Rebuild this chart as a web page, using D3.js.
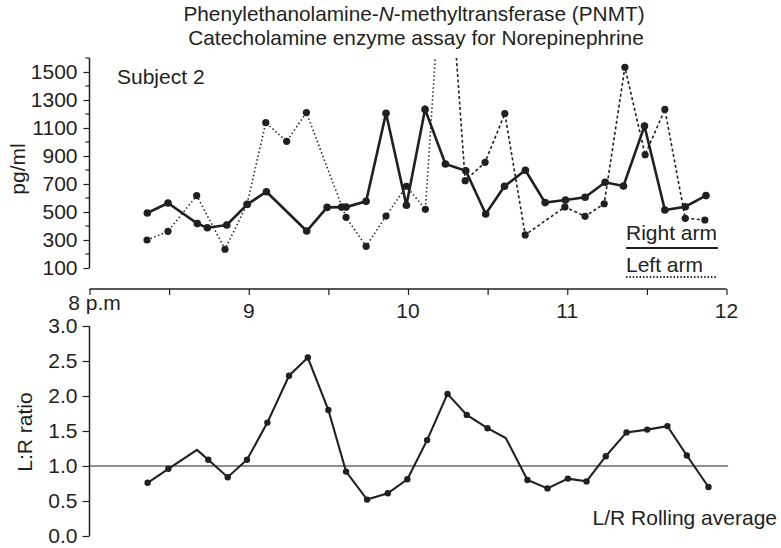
<!DOCTYPE html>
<html>
<head>
<meta charset="utf-8">
<script src="https://cdn.jsdelivr.net/npm/d3@7"></script>
<style>
  html, body { margin: 0; padding: 0; background: #fff; }
  svg { display: block; font-family: "Liberation Sans", Arial, Helvetica, sans-serif; }
  text { fill: #231f20; }
</style>
</head>
<body>
<svg id="chart" width="781" height="548"></svg>
<script>
// Sampling times (clock hours, 8 p.m. = 8) and plasma norepinephrine, pg/ml
const rightTimes = [8.363, 8.493, 8.677, 8.740, 8.862, 8.991, 9.111, 9.364, 9.492, 9.584, 9.611,
  9.737, 9.862, 9.990, 10.107, 10.235, 10.363, 10.488, 10.606, 10.737, 10.861, 10.989,
  11.112, 11.238, 11.353, 11.485, 11.613, 11.741, 11.871];
const rightArm = [493, 564, 417, 388, 407, 555, 645, 364, 533, 535, 535,
  576, 1205, 548, 1233, 843, 795, 486, 684, 798, 567, 586,
  605, 712, 686, 1114, 514, 538, 617];

const leftTimes = [8.361, 8.493, 8.673, 8.851, 8.989, 9.107, 9.238, 9.362, 9.611, 9.737,
  9.862, 9.990, 10.109, 10.235, 10.359, 10.484, 10.608, 10.736, 10.985, 11.112,
  11.232, 11.362, 11.489, 11.613, 11.741, 11.864];
const leftArm = [300, 362, 617, 234, 555, 1138, 1005, 1210, 462, 255,
  471, 684, 519, 2700, 724, 855, 1203, 336, 536, 469,
  559, 1534, 909, 1233, 455, 443];

// L:R rolling average
const ratioTimes = [8.365, 8.495, 8.675, 8.746, 8.868, 8.989, 9.117, 9.253, 9.371, 9.500,
  9.611, 9.743, 9.873, 9.996, 10.120, 10.248, 10.369, 10.499, 10.614, 10.750,
  10.876, 11.004, 11.121, 11.242, 11.372, 11.502, 11.629, 11.751, 11.887];
const ratioValues = [0.76, 0.96, 1.23, 1.09, 0.84, 1.09, 1.62, 2.29, 2.55, 1.80,
  0.92, 0.52, 0.61, 0.81, 1.37, 2.03, 1.73, 1.54, 1.40, 0.80,
  0.68, 0.82, 0.78, 1.14, 1.48, 1.52, 1.57, 1.15, 0.70];
const ratioMarked = [true, true, false, true, true, true, true, true, true, true,
  true, true, true, true, true, true, true, true, false, true,
  true, true, true, true, true, true, true, true, true];

const hourTicks = [8, 9, 10, 11, 12];
const hourLabels = ["8 p.m", "9", "10", "11", "12"];
const pgTicks = [100, 300, 500, 700, 900, 1100, 1300, 1500];
const ratioTicks = [0, 0.5, 1.0, 1.5, 2.0, 2.5, 3.0];

const titleLines = ["Phenylethanolamine-", "N", "-methyltransferase (PNMT)"];
const subtitle = "Catecholamine enzyme assay for Norepinephrine";

const ink = "#231f20";
const fontSize = "21px";
const svg = d3.select("#chart");

// Scales
const x = d3.scaleLinear().domain([8, 12]).range([89.5, 726.5]);
const yTop = d3.scaleLinear().domain([100, 1600]).range([268, 58]);
const yBot = d3.scaleLinear().domain([0, 3]).range([536, 326]);

// Title
const t1 = svg.append("text").attr("x", 414).attr("y", 20.5)
  .attr("text-anchor", "middle").style("font-size", "20.8px");
t1.append("tspan").text(titleLines[0]);
t1.append("tspan").style("font-style", "italic").text(titleLines[1]);
t1.append("tspan").text(titleLines[2]);
svg.append("text").attr("x", 416).attr("y", 44.5)
  .attr("text-anchor", "middle").style("font-size", "20.8px").text(subtitle);

// ---------- Upper panel ----------
const upper = svg.append("g");

// y axis with minor ticks every 100
const yAxisTop = d3.axisLeft(yTop).tickValues(pgTicks).tickSize(6).tickPadding(6)
  .tickFormat(d3.format("d"));
const gyt = upper.append("g").attr("transform", "translate(89.5,0)").call(yAxisTop);
gyt.select(".domain").remove();
gyt.append("line").attr("x1", 0).attr("x2", 0).attr("y1", yTop(1600)).attr("y2", yTop(100))
  .attr("stroke", ink).attr("stroke-width", 1.5);
gyt.selectAll(".minor").data(d3.range(200, 1700, 200)).join("line")
  .attr("class", "minor").attr("x1", -4).attr("x2", 0)
  .attr("y1", d => yTop(d)).attr("y2", d => yTop(d))
  .attr("stroke", ink).attr("stroke-width", 1.2);
gyt.selectAll(".tick line").attr("stroke", ink).attr("stroke-width", 1.2);
gyt.selectAll(".tick text").style("font-size", fontSize).attr("fill", ink)
  .style("font-family", "Liberation Sans, Arial, sans-serif");

// x axis (time), ticks every half hour, pointing down
const xAxis = d3.axisBottom(x).tickValues(d3.range(8, 12.01, 0.5)).tickSize(6).tickFormat("");
const gx = upper.append("g").attr("transform", "translate(0,289)").call(xAxis);
gx.select(".domain").attr("stroke", ink).attr("stroke-width", 1.5)
  .attr("d", `M${x(8)},0H${x(12)}`);
gx.selectAll(".tick line").attr("stroke", ink).attr("stroke-width", 1.2);
upper.selectAll(".hour").data(hourTicks).join("text")
  .attr("class", "hour")
  .attr("x", (d, i) => i === 0 ? x(d) + 5 : x(d))
  .attr("y", (d, i) => i === 0 ? 310 : 318)
  .attr("text-anchor", "middle").style("font-size", fontSize)
  .text((d, i) => hourLabels[i]);

// y label
upper.append("text").attr("transform", `translate(25,169) rotate(-90)`)
  .attr("text-anchor", "middle").style("font-size", fontSize).text("pg/ml");

upper.append("text").attr("x", 117).attr("y", 84).style("font-size", fontSize).text("Subject 2");

// clip for the plotting area
svg.append("defs").append("clipPath").attr("id", "plotclip")
  .append("rect").attr("x", 89).attr("y", yTop(1600)).attr("width", 660).attr("height", 240);

const rightPts = rightTimes.map((t, i) => [t, rightArm[i]]);
const leftPts = leftTimes.map((t, i) => [t, leftArm[i]]);
const lineTop = d3.line().x(d => x(d[0])).y(d => yTop(d[1]));

const peak = leftArm.indexOf(d3.max(leftArm));
const plot = upper.append("g").attr("clip-path", "url(#plotclip)");

// left arm: fine dots up to the off-scale peak, short dashes after it
plot.append("path").attr("d", lineTop(leftPts.slice(0, peak + 1)))
  .attr("fill", "none").attr("stroke", ink).attr("stroke-width", 1.6)
  .attr("stroke-dasharray", "1.4,2.6");
plot.append("path").attr("d", lineTop(leftPts.slice(peak)))
  .attr("fill", "none").attr("stroke", ink).attr("stroke-width", 1.6)
  .attr("stroke-dasharray", "3,2.5");
plot.selectAll(".ldot").data(leftPts.filter((d, i) => i !== peak)).join("circle")
  .attr("class", "ldot").attr("cx", d => x(d[0])).attr("cy", d => yTop(d[1]))
  .attr("r", 3.6).attr("fill", ink);

// right arm
plot.append("path").attr("d", lineTop(rightPts))
  .attr("fill", "none").attr("stroke", ink).attr("stroke-width", 2.6)
  .attr("stroke-linejoin", "miter");
plot.selectAll(".rdot").data(rightPts).join("circle")
  .attr("class", "rdot").attr("cx", d => x(d[0])).attr("cy", d => yTop(d[1]))
  .attr("r", 3.8).attr("fill", ink);

// legend
upper.append("text").attr("x", 626).attr("y", 240).style("font-size", fontSize).text("Right arm");
upper.append("line").attr("x1", 626).attr("x2", 718).attr("y1", 248).attr("y2", 248)
  .attr("stroke", ink).attr("stroke-width", 2);
upper.append("text").attr("x", 626).attr("y", 271.5).style("font-size", fontSize).text("Left arm");
upper.append("line").attr("x1", 626).attr("x2", 717).attr("y1", 277).attr("y2", 277)
  .attr("stroke", ink).attr("stroke-width", 1.8).attr("stroke-dasharray", "1.4,2");

// ---------- Lower panel ----------
const lower = svg.append("g");
const yAxisBot = d3.axisLeft(yBot).tickValues(ratioTicks).tickSize(7).tickPadding(5)
  .tickFormat(d3.format(".1f"));
const gyb = lower.append("g").attr("transform", "translate(89.5,0)").call(yAxisBot);
gyb.select(".domain").remove();
gyb.append("line").attr("x1", 0).attr("x2", 0).attr("y1", yBot(3)).attr("y2", yBot(0))
  .attr("stroke", ink).attr("stroke-width", 1.5);
gyb.selectAll(".tick line").attr("stroke", ink).attr("stroke-width", 1.2);
gyb.selectAll(".tick text").style("font-size", fontSize).attr("fill", ink)
  .style("font-family", "Liberation Sans, Arial, sans-serif");

lower.append("text").attr("transform", `translate(32,432) rotate(-90)`)
  .attr("text-anchor", "middle").style("font-size", fontSize).text("L:R ratio");

// reference line at ratio 1.0
lower.append("line").attr("x1", x(8)).attr("x2", x(12.01)).attr("y1", yBot(1)).attr("y2", yBot(1))
  .attr("stroke", ink).attr("stroke-width", 1.2);

const ratioPts = ratioTimes.map((t, i) => [t, ratioValues[i], ratioMarked[i]]);
const lineBot = d3.line().x(d => x(d[0])).y(d => yBot(d[1]));
lower.append("path").attr("d", lineBot(ratioPts))
  .attr("fill", "none").attr("stroke", ink).attr("stroke-width", 2.1);
lower.selectAll(".bdot").data(ratioPts.filter(d => d[2])).join("circle")
  .attr("class", "bdot").attr("cx", d => x(d[0])).attr("cy", d => yBot(d[1]))
  .attr("r", 3.2).attr("fill", ink);

lower.append("text").attr("x", 777).attr("y", 525).attr("text-anchor", "end")
  .style("font-size", fontSize).text("L/R Rolling average");
</script>
</body>
</html>
